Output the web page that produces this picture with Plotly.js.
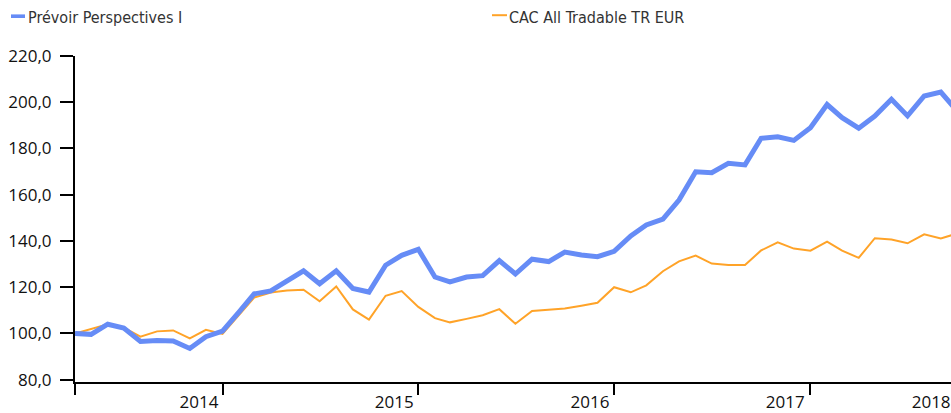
<!DOCTYPE html>
<html>
<head>
<meta charset="utf-8">
<script src="https://cdn.plot.ly/plotly-3.0.1.min.js"></script>
<style>
html, body { margin: 0; padding: 0; background: #fff; }
#chart { width: 951px; height: 413px; }
</style>
</head>
<body>
<div id="chart"></div>
<script>
// ---- data ----
var months = [
  "2013-04-01","2013-05-01","2013-06-01","2013-07-01","2013-08-01","2013-09-01","2013-10-01","2013-11-01","2013-12-01",
  "2014-01-01","2014-02-01","2014-03-01","2014-04-01","2014-05-01","2014-06-01","2014-07-01","2014-08-01","2014-09-01","2014-10-01","2014-11-01","2014-12-01",
  "2015-01-01","2015-02-01","2015-03-01","2015-04-01","2015-05-01","2015-06-01","2015-07-01","2015-08-01","2015-09-01","2015-10-01","2015-11-01","2015-12-01",
  "2016-01-01","2016-02-01","2016-03-01","2016-04-01","2016-05-01","2016-06-01","2016-07-01","2016-08-01","2016-09-01","2016-10-01","2016-11-01","2016-12-01",
  "2017-01-01","2017-02-01","2017-03-01","2017-04-01","2017-05-01","2017-06-01","2017-07-01","2017-08-01","2017-09-01","2017-10-01"
];
var prevoir = [
  100.0, 99.6, 104.0, 102.3, 96.5, 96.9, 96.7, 93.5, 98.6,
  101.0, 109.3, 117.1, 118.4, 122.6, 127.1, 121.5, 127.1, 119.5, 117.9, 129.5, 133.8,
  136.4, 124.4, 122.3, 124.4, 125.0, 131.5, 125.7, 132.1, 131.1, 135.2, 133.9, 133.2,
  135.5, 142.2, 146.9, 149.4, 157.7, 169.9, 169.5, 173.6, 172.9, 184.4, 185.1, 183.5,
  189.0, 199.0, 193.3, 188.8, 194.0, 201.3, 194.1, 202.7, 204.4, 196.3
];
var cac = [
  100.0, 102.1, 104.0, 102.5, 98.6, 100.9, 101.3, 97.9, 101.6,
  99.8, 107.8, 115.5, 117.7, 118.6, 118.9, 113.9, 120.3, 110.4, 106.0, 116.3, 118.3,
  111.5, 106.6, 104.8, 106.3, 107.9, 110.5, 104.2, 109.7, 110.1, 110.8, 112.0, 113.3,
  120.0, 117.8, 120.8, 126.9, 131.2, 133.7, 130.2, 129.6, 129.6, 135.9, 139.4, 136.7,
  135.8, 139.7, 135.8, 132.7, 141.2, 140.6, 139.0, 142.9, 141.1, 143.2
];
var seriesNames = ["Prévoir Perspectives I", "CAC All Tradable TR EUR"];
var seriesColors = ["#668cf6", "#ffa328"];
var yTicks = [80, 100, 120, 140, 160, 180, 200, 220];
var yearTickDates = ["2013-04-01", "2014-01-01", "2015-01-01", "2016-01-01", "2017-01-01"];
var yearLabels = ["2014", "2015", "2016", "2017", "2018"];
var yearLabelDates = ["2013-11-18", "2014-11-17", "2015-11-17", "2016-11-15", "2017-08-14"];

// ---- layout helpers (pixel -> paper for the custom legend) ----
var L = 75, T = 56, W = 876, H = 326;
function px(x) { return (x - L) / W; }
function py(y) { return (T + H - y) / H; }

var traces = [
  { x: months, y: cac, type: "scatter", mode: "lines", name: seriesNames[1],
    line: { color: seriesColors[1], width: 2 }, hoverinfo: "skip", showlegend: false },
  { x: months, y: prevoir, type: "scatter", mode: "lines", name: seriesNames[0],
    line: { color: seriesColors[0], width: 5 }, hoverinfo: "skip", showlegend: false },
  { x: yearLabelDates, y: yearLabelDates.map(function () { return null; }), xaxis: "x2",
    type: "scatter", mode: "lines", hoverinfo: "skip", showlegend: false }
];

var axisFont = { family: "Open Sans, Noto Sans, sans-serif", size: 17, color: "#111111" };
var legendFont = { family: "DejaVu Sans Condensed, Roboto, sans-serif", size: 16, color: "#333333" };
var xRange = ["2013-04-01", "2017-09-20"];

var layout = {
  width: 951, height: 413,
  margin: { l: L, r: 0, t: T, b: 413 - T - H, pad: 0 },
  paper_bgcolor: "#ffffff", plot_bgcolor: "#ffffff",
  separators: ", ",
  showlegend: false,
  xaxis: {
    type: "date", range: xRange, fixedrange: true,
    showline: true, linecolor: "#000", linewidth: 2,
    ticks: "outside", ticklen: 11, tickwidth: 2, tickcolor: "#000",
    tickmode: "array", tickvals: yearTickDates, showticklabels: false,
    showgrid: false, zeroline: false
  },
  xaxis2: {
    type: "date", range: xRange, fixedrange: true, overlaying: "x", anchor: "y", side: "bottom",
    showline: false, ticks: "", tickmode: "array", tickvals: yearLabelDates, ticktext: yearLabels,
    tickfont: axisFont, ticklabelstandoff: 8, showgrid: false, zeroline: false
  },
  yaxis: {
    range: [79, 220], fixedrange: true,
    showline: true, linecolor: "#000", linewidth: 2,
    ticks: "outside", ticklen: 13, tickwidth: 2, tickcolor: "#000",
    tickmode: "array", tickvals: yTicks, tickformat: ".1f",
    tickfont: axisFont, ticklabelstandoff: 5,
    showgrid: false, zeroline: false
  },
  shapes: [
    { type: "rect", xref: "paper", yref: "paper", x0: px(11), x1: px(25), y0: py(18), y1: py(14.4),
      fillcolor: seriesColors[0], line: { width: 0 } },
    { type: "rect", xref: "paper", yref: "paper", x0: px(492), x1: px(507), y0: py(16.2), y1: py(14.2),
      fillcolor: seriesColors[1], line: { width: 0 } }
  ],
  annotations: [
    { xref: "paper", yref: "paper", x: px(25.5), y: py(17.5), xanchor: "left", yanchor: "middle",
      text: seriesNames[0], showarrow: false, font: legendFont },
    { xref: "paper", yref: "paper", x: px(507), y: py(17.5), xanchor: "left", yanchor: "middle",
      text: seriesNames[1], showarrow: false, font: legendFont }
  ]
};

Plotly.newPlot("chart", traces, layout, { staticPlot: true, displayModeBar: false });
</script>
</body>
</html>
